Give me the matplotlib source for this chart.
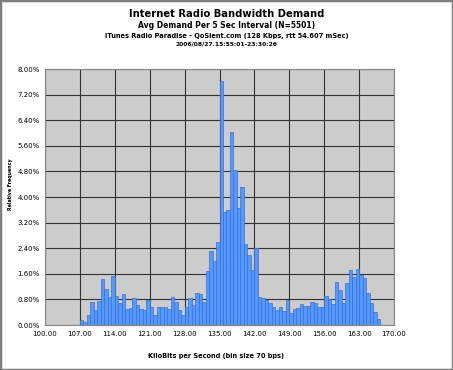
import matplotlib
matplotlib.use("Agg")
import matplotlib.pyplot as plt
import numpy as np
from matplotlib.patches import Rectangle

# bin index k covers [100 + 0.7k, 100 + 0.7(k+1)] kbps
first_bin = 10
bin_width = 0.7
rel_freq = [
    0.15, 0.08, 0.30, 0.73, 0.47, 0.75, 1.43, 1.11, 0.88, 1.53,
    0.90, 0.68, 0.97, 0.50, 0.52, 0.83, 0.63, 0.49, 0.47, 0.78,
    0.55, 0.31, 0.57, 0.55, 0.55, 0.49, 0.88, 0.73, 0.47, 0.31,
    0.57, 0.83, 0.63, 1.01, 0.97, 0.71, 1.70, 2.32, 2.00, 2.60,
    7.62, 3.54, 3.60, 6.04, 4.84, 3.65, 4.32, 2.53, 2.19, 1.72,
    2.42, 0.89, 0.84, 0.78, 0.68, 0.55, 0.47, 0.55, 0.45, 0.77,
    0.38, 0.50, 0.52, 0.65, 0.58, 0.60, 0.73, 0.68, 0.57, 0.55,
    0.92, 0.80, 0.66, 1.33, 1.09, 0.70, 1.30, 1.72, 1.51, 1.75,
    1.56, 1.46, 1.01, 0.69, 0.42, 0.20,
]
x_ticks = np.arange(100, 171, 7)
y_ticks = np.arange(0, 8.01, 0.8)

titles = [
    ("Internet Radio Bandwidth Demand", 7.2),
    ("Avg Demand Per 5 Sec Interval (N=5501)", 5.5),
    ("iTunes Radio Paradise - QoSient.com (128 Kbps, rtt 54.607 mSec)", 4.75),
    ("2006/08/27.15:55:01-23:30:26", 4.3),
]

plt.rcParams['font.family'] = ['DejaVu Sans']

fig = plt.figure(figsize=(4.53, 3.70), dpi=100)
fig.patches.append(Rectangle((0, 0), 1, 1, transform=fig.transFigure,
                             fill=False, edgecolor='#7f7f7f', linewidth=2.5))

ax = fig.add_axes([45 / 453, 45 / 370, 349 / 453, 256 / 370])
ax.set_facecolor('#cccccc')

lefts = 100 + bin_width * (first_bin + np.arange(len(rel_freq)))
ax.bar(lefts, rel_freq, width=bin_width, align='edge',
       color='#5599ff', edgecolor='#3a6fd8', linewidth=0.5, zorder=3)

ax.set_xlim(100, 170)
ax.set_ylim(0, 8)
ax.set_xticks(x_ticks)
ax.set_yticks(y_ticks)
ax.set_xticklabels(["%.2f" % v for v in x_ticks], fontsize=5.0)
ax.set_yticklabels(["%.2f%%" % v for v in y_ticks], fontsize=5.0)
ax.tick_params(length=0, pad=4)
ax.grid(True, color='#333333', linewidth=0.8, zorder=1)
for s in ax.spines.values():
    s.set_color('#888888')
    s.set_linewidth(0.8)

ax.set_xlabel("KiloBits per Second (bin size 70 bps)", fontsize=4.8,
              fontweight='bold')
ax.xaxis.set_label_coords(0.49, -28 / 256)
ax.set_ylabel("Relative Frequency", fontsize=3.4, fontweight='bold')
ax.yaxis.set_label_coords(-32 / 349, 0.55)

y_pos = [14, 26, 36, 44]
for (txt, size), yp in zip(titles, y_pos):
    fig.text(0.5, 1 - yp / 370, txt, ha='center', va='center',
             fontsize=size, fontweight='bold')

fig.savefig("out.png", dpi=100)
